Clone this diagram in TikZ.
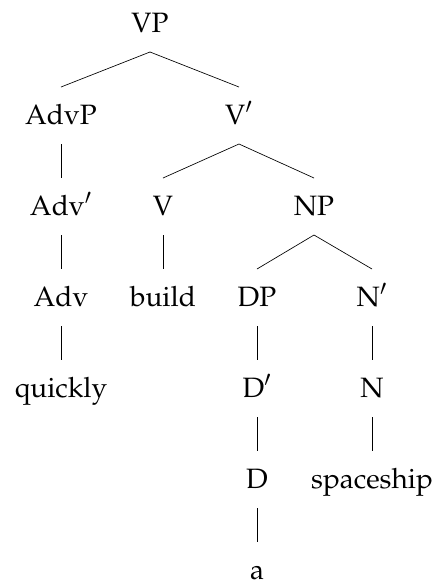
\documentclass[tikz,border=0pt]{standalone}
\usepackage[T1]{fontenc}
\usepackage{mathpazo}
\usetikzlibrary{calc}
\begin{document}
\begin{tikzpicture}[x=0.75pt,y=-0.75pt,
  lbl/.style={anchor=base,inner sep=0pt,font=\fontsize{21}{25}\selectfont},
  edge/.style={line width=0.5pt}]
\useasboundingbox (0,0) rectangle (436,583);
% level baselines: 32,124,215,306,397,488,579
\node[lbl] (vp) at (150,32) {VP};
\node[lbl] (advp) at (61,124) {AdvP};
\node[lbl] (vbar) at (239,124) {V$'$};
\node[lbl] (advbar) at (61,215) {Adv$'$};
\node[lbl] (v) at (163,215) {V};
\node[lbl] (np) at (314,215) {NP};
\node[lbl] (adv) at (61,306) {Adv};
\node[lbl] (build) at (163,306) {build};
\node[lbl] (dp) at (257,306) {DP};
\node[lbl] (nbar) at (372,306) {N$'$};
\node[lbl] (quickly) at (61,397) {quickly};
\node[lbl] (dbar) at (257,397) {D$'$};
\node[lbl] (n) at (372,397) {N};
\node[lbl] (d) at (257,488) {D};
\node[lbl] (spaceship) at (372,488) {spaceship};
\node[lbl] (a) at (257,579) {a};
\newcommand{\tedge}[2]{\draw[edge] ($(#1.base)+(0,20)$) -- ($(#2.base)+(0,-37)$);}
\tedge{vp}{advp}
\tedge{vp}{vbar}
\tedge{advp}{advbar}
\tedge{vbar}{v}
\tedge{vbar}{np}
\tedge{advbar}{adv}
\tedge{v}{build}
\tedge{np}{dp}
\tedge{np}{nbar}
\tedge{adv}{quickly}
\tedge{dp}{dbar}
\tedge{nbar}{n}
\tedge{dbar}{d}
\tedge{n}{spaceship}
\tedge{d}{a}
\end{tikzpicture}
\end{document}
